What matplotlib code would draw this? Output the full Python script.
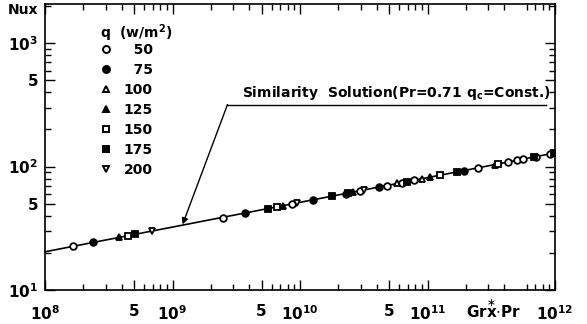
import matplotlib
matplotlib.use("Agg")
import matplotlib.pyplot as plt
from matplotlib.lines import Line2D
from matplotlib.ticker import FixedLocator, NullFormatter, FixedFormatter

# Heat flux levels q (W/m^2) and the local Nusselt number measured at each
q_levels = ["50", "75", "100", "125", "150", "175", "200"]

grpr_q50 = [1.66e8, 2.5e9, 8.7e9, 2.3e10, 2.95e10, 4.8e10, 6.3e10, 7.8e10,
            2.5e11, 4.3e11, 5.0e11, 5.6e11, 7.1e11, 9.1e11]
nu_q50 = [22.6, 38.2, 49.5, 60.5, 63.7, 70.2, 74.1, 77.3,
          97.7, 108.6, 112.2, 114.8, 120.2, 126.5]

grpr_q75 = [2.4e8, 3.7e9, 1.26e10, 4.2e10, 1.95e11]
nu_q75 = [24.3, 42.1, 53.7, 68.2, 92.9]

grpr_q100 = [5.75e10, 9.1e10, 3.4e11]
nu_q100 = [74.0, 79.8, 103.8]

grpr_q125 = [3.8e8, 7.4e9, 2.6e10, 1.05e11]
nu_q125 = [26.7, 48.3, 62.2, 82.0]

grpr_q150 = [4.5e8, 6.6e9, 1.26e11, 3.55e11]
nu_q150 = [27.5, 47.2, 85.1, 104.7]

grpr_q175 = [5.1e8, 5.6e9, 1.78e10, 2.4e10, 6.9e10, 1.7e11, 6.8e11, 9.8e11]
nu_q175 = [28.3, 45.7, 57.5, 61.1, 75.5, 90.4, 119.1, 128.2]

grpr_q200 = [6.9e8, 9.5e9, 3.2e10]
nu_q200 = [30.1, 50.8, 64.9]

# Similarity solution (Pr = 0.71, q = const.) end points
sim_grpr = [1e8, 1e12]
sim_nu = [20.4, 129.0]

# Annotation geometry (data coordinates)
arrow_tip = (1.2e9, 34.0)
arrow_elbow = (2.7e9, 318.0)
leader_end = 8.5e11

xticks_major = [1e8, 5e8, 1e9, 5e9, 1e10, 5e10, 1e11, 1e12]
xtick_labels = [r"$\mathbf{10^8}$", "5", r"$\mathbf{10^9}$", "5",
                r"$\mathbf{10^{10}}$", "5", r"$\mathbf{10^{11}}$", r"$\mathbf{10^{12}}$"]
yticks_major = [10, 50, 100, 500, 1000]
ytick_labels = [r"$\mathbf{10^1}$", "5", r"$\mathbf{10^2}$", "5", r"$\mathbf{10^3}$"]

plt.rcParams["font.family"] = ["DejaVu Sans"]
plt.rcParams["mathtext.fontset"] = "dejavusans"

fig = plt.figure(figsize=(5.87, 3.24), dpi=100)
ax = fig.add_axes([45 / 587, 1 - 290 / 324, (555 - 45) / 587, (290 - 4) / 324])
ax.set_xscale("log")
ax.set_yscale("log")
ax.set_xlim(1e8, 1e12)
ax.set_ylim(10, 2075)

ax.plot(sim_grpr, sim_nu, color="black", lw=1.2, zorder=2)

series = [
    (grpr_q50, nu_q50, "o", "white"),
    (grpr_q75, nu_q75, "o", "black"),
    (grpr_q100, nu_q100, "^", "white"),
    (grpr_q125, nu_q125, "^", "black"),
    (grpr_q150, nu_q150, "s", "white"),
    (grpr_q175, nu_q175, "s", "black"),
    (grpr_q200, nu_q200, "v", "white"),
]
handles = []
for (x, y, m, fc), q in zip(series, q_levels):
    ax.plot(x, y, ls="none", marker=m, ms=4.8, mfc=fc, mec="black",
            mew=1.3, zorder=3)
    handles.append(Line2D([], [], ls="none", marker=m, ms=5, mfc=fc,
                          mec="black", mew=1.4,
                          label=("\u2007" * (3 - len(q))) + q))

# Legend heading drawn separately so the rows sit close beneath it
ax.text(0.108, 0.899, "q  (w/m$^\\mathbf{2}$)", transform=ax.transAxes,
        fontsize=10, fontweight="bold", ha="left", va="center")
leg = ax.legend(handles=handles, loc="upper left",
                bbox_to_anchor=(0.086, 0.899), frameon=False,
                prop={"weight": "bold", "size": 10},
                handletextpad=0.8, handlelength=1.0, labelspacing=0.44,
                borderpad=0.2)

# Leader line and arrow pointing at the similarity solution
ax.plot([arrow_elbow[0], leader_end], [arrow_elbow[1], arrow_elbow[1]],
        color="black", lw=1.0)
ax.annotate("", xy=arrow_tip, xytext=arrow_elbow,
            arrowprops=dict(arrowstyle="-|>", color="black", lw=1.0,
                            mutation_scale=9, shrinkA=0, shrinkB=0))
ax.text(3.5e9, 335, r"Similarity  Solution(Pr=0.71 q$_\mathbf{c}$=Const.)",
        fontsize=10, fontweight="bold", ha="left", va="bottom")

# Ticks on all four sides, pointing inward
ax.xaxis.set_major_locator(FixedLocator(xticks_major))
ax.xaxis.set_major_formatter(FixedFormatter(xtick_labels))
ax.yaxis.set_major_locator(FixedLocator(yticks_major))
ax.yaxis.set_major_formatter(FixedFormatter(ytick_labels))
minor_x = [k * 10.0 ** e for e in range(8, 12) for k in range(2, 10) if k != 5]
minor_y = [k * 10.0 ** e for e in range(1, 4) for k in range(2, 10)
           if k != 5 and k * 10.0 ** e < 2075]
ax.xaxis.set_minor_locator(FixedLocator(minor_x))
ax.yaxis.set_minor_locator(FixedLocator(minor_y))
ax.xaxis.set_minor_formatter(NullFormatter())
ax.yaxis.set_minor_formatter(NullFormatter())
ax.tick_params(which="both", direction="in", top=True, right=True,
               width=1.0, colors="black")
ax.tick_params(which="major", length=7, labelsize=11)
ax.tick_params(axis="x", which="major", pad=10)
ax.tick_params(axis="y", which="major", pad=5)
ax.tick_params(which="minor", length=4)
for lab in ax.get_xticklabels() + ax.get_yticklabels():
    lab.set_fontweight("bold")
for s in ax.spines.values():
    s.set_linewidth(1.2)

ax.text(3.3e11, 6.9, r"Gr$\overset{\ast}{\mathbf{x}}$$\cdot$Pr", fontsize=11,
        fontweight="bold", ha="center", va="center")
fig.text(8 / 587, 1 - 10 / 324, "Nux", fontsize=10, fontweight="bold",
         ha="left", va="center")

fig.savefig("out.png", dpi=100)
